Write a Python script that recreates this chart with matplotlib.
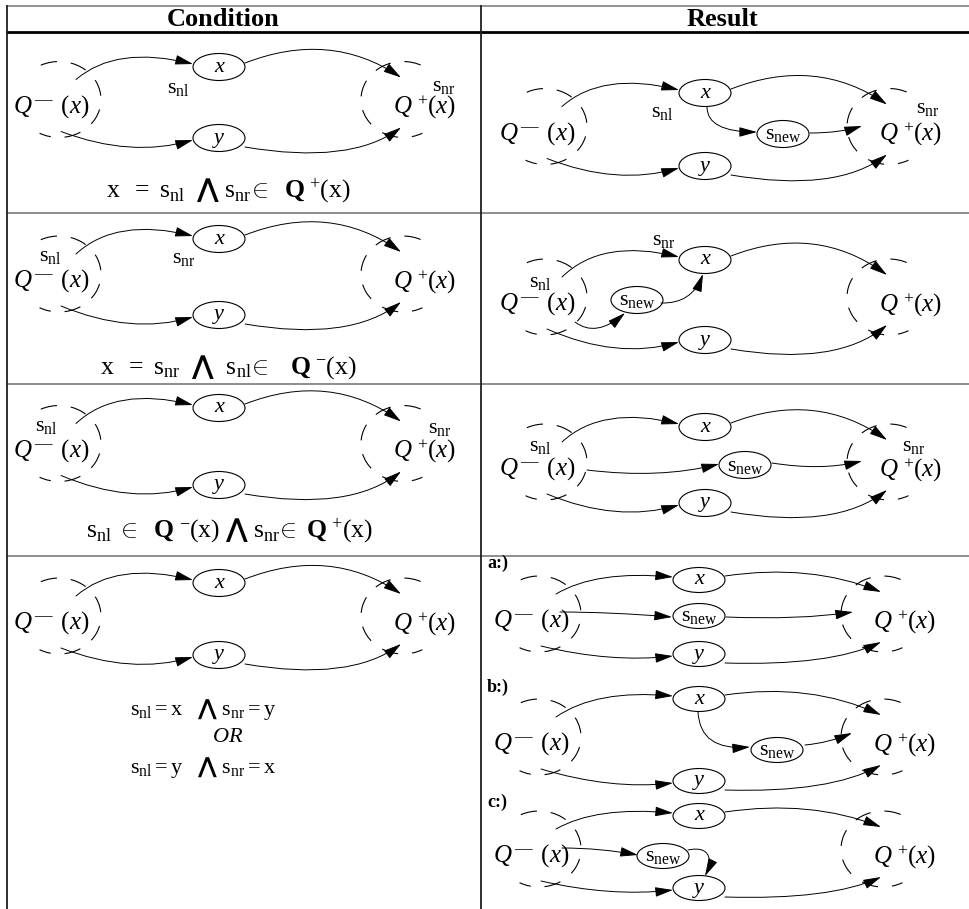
import matplotlib
matplotlib.use('Agg')
import matplotlib.pyplot as plt
from matplotlib.patches import Ellipse, Arc, FancyArrowPatch
from matplotlib.path import Path

plt.rcParams['mathtext.fontset'] = 'custom'
plt.rcParams['mathtext.rm'] = 'Liberation Serif'
plt.rcParams['mathtext.it'] = 'Liberation Serif:italic'
plt.rcParams['mathtext.bf'] = 'Liberation Serif:bold'
plt.rcParams['mathtext.sf'] = 'DejaVu Sans:bold'
plt.rcParams['font.family'] = ['Liberation Serif', 'DejaVu Serif']
plt.rcParams['lines.scale_dashes'] = False

# ---------------- table layout ----------------
COL_X = [7, 481]
ROW_Y = [6, 32, 213, 384, 556]
HEADERS = ['Condition', 'Result']
HEADER_X = [223, 722]

# ---------------- diagrams: (x-node cx, x-node cy, y-node cy, curve amplitude)
COND_NODES = [(219, 67, 138, 1.0), (219, 239, 315, 1.0), (219, 408, 485, 1.0), (219, 583, 655, 1.0)]
RES_NODES = [(705, 93, 166, 1.0), (705, 260, 340, 1.0), (705, 427, 503, 1.0),
             (699, 580, 654, 0.45), (699, 699, 781, 0.45), (699, 816, 888, 0.45)]
NODE_H = [27, 27, 27, 25, 25, 25]

SNEW_POS = [(783, 134), (637, 300), (745, 465), (699, 616), (777, 750), (663, 856)]
SNEW_EDGES = [
    [[(707, 107), (707, 132), (757, 132)], [(810, 133), (840, 133), (862, 126)]],
    [[(575, 322), (596, 338), (625, 313)], [(661, 303), (692, 304), (703, 274)]],
    [[(587, 470), (660, 479), (719, 464)], [(772, 463), (822, 471), (862, 461)]],
    [[(560, 612), (610, 612), (672, 617)], [(726, 617), (800, 620), (853, 612)]],
    [[(698, 712), (700, 751), (750, 747)], [(805, 745), (828, 743), (852, 733)]],
    [[(562, 848), (600, 848), (638, 855)], [(688, 850), (712, 845), (712, 862), (705, 876)]],
]

LABELS = [('nl', 178, 88), ('nr', 444, 86),
          ('nl', 50, 257), ('nr', 184, 259),
          ('nl', 46, 427), ('nr', 440, 429),
          ('nl', 662, 112), ('nr', 928, 108),
          ('nl', 540, 282), ('nr', 664, 240),
          ('nl', 540, 446), ('nr', 914, 447)]

SUB_LABELS = [('a:)', 487, 563), ('b:)', 487, 687), ('c:)', 487, 802)]

WEDGE = r'\mathsf{⋀}'
FORMULAS = [
    (228, 191, r'$\mathrm{x}\ \ =\ \mathrm{s_{nl}}\ \ %s\ \mathrm{s_{nr}}\!\in\ \ \mathbf{Q}^{\,+}\!(\mathrm{x})$' % WEDGE),
    (228, 367, r'$\mathrm{x}\ \ =\ \mathrm{s_{nr}}\ \ %s\ \ \mathrm{s_{nl}}\!\in\ \ \ \mathbf{Q}^{\,-}\!(\mathrm{x})$' % WEDGE),
    (230, 531, r'$\mathrm{s_{nl}}\ \in\ \ \mathbf{Q}^{\,-}\!(\mathrm{x})\ %s\ \mathrm{s_{nr}}\!\in\ \mathbf{Q}^{\,+}\!(\mathrm{x})$' % WEDGE),
]
OR_LINES = [(130, 709, r'$\mathrm{s_{nl}{=}x}\ \ \ %s\ \mathrm{s_{nr}{=}y}$' % WEDGE, 'left'),
            (228, 738, r'$OR$', 'center'),
            (130, 768, r'$\mathrm{s_{nl}{=}y}\ \ \ %s\ \mathrm{s_{nr}{=}x}$' % WEDGE, 'left')]

W, H = 969, 909
fig = plt.figure(figsize=(W / 100, H / 100), dpi=100)
ax = fig.add_axes([0, 0, 1, 1])
ax.set_xlim(0, W)
ax.set_ylim(H, 0)
ax.axis('off')

# table lines
ax.plot([COL_X[0], W], [ROW_Y[0], ROW_Y[0]], color='#808080', lw=1.2)
ax.plot([COL_X[0], W], [ROW_Y[1], ROW_Y[1]], color='black', lw=2.0)
for yy in ROW_Y[2:]:
    ax.plot([COL_X[0], W], [yy, yy], color='#7a7a7a', lw=1.2)
for xx in COL_X:
    ax.plot([xx, xx], [ROW_Y[0], H], color='#202020', lw=1.3)
for t, hx in zip(HEADERS, HEADER_X):
    ax.text(hx, 19, t, fontsize=19, fontweight='bold', ha='center', va='center')

ARROW = '-|>,head_length=1.1,head_width=0.3'


def arrow(pts):
    if len(pts) == 3:
        codes = [Path.MOVETO, Path.CURVE3, Path.CURVE3]
    else:
        codes = [Path.MOVETO, Path.CURVE4, Path.CURVE4, Path.CURVE4]
    p = FancyArrowPatch(path=Path(pts, codes), arrowstyle=ARROW, mutation_scale=10,
                        lw=0.7, color='black')
    ax.add_patch(p)


def diagram(xc, xy, yy, amp, nh):
    lcx, rcx = xc - 160, xc + 184
    cy = (xy + yy) / 2 - 3
    ax.add_patch(Arc((lcx, cy), 84, 76, theta1=-118, theta2=120, lw=0.8,
                     linestyle=(0, (12, 10)), color='black'))
    ax.add_patch(Arc((rcx, cy), 84, 76, theta1=60, theta2=300, lw=0.8,
                     linestyle=(4, (12, 10)), color='black'))
    ax.text(lcx - 8, cy + 7, r'$Q^{\,—}\;\,(x)$', fontsize=18, ha='center', va='center')
    ax.text(rcx + 22, cy + 8, r'$Q^{\,+}\!(x)$', fontsize=18, ha='center', va='center')
    for ny, lab in ((xy, 'x'), (yy, 'y')):
        ax.add_patch(Ellipse((xc, ny), 52, nh, fill=False, lw=0.8, color='black'))
        ax.text(xc, ny, lab, fontsize=16, style='italic', ha='center', va='center')
    arrow([(lcx + 17, cy - 20), (lcx + 57, xy - 22 * amp), (xc - 26, xy - 3)])
    arrow([(xc + 26, xy - 4), (xc + 111, xy - 37 * amp), (rcx - 2, cy - 22)])
    arrow([(lcx + 2, cy + 32), (lcx + 72, yy + 20 * amp), (xc - 26, yy + 2)])
    arrow([(xc + 26, yy + 9), (xc + 131, yy + 27 * amp), (rcx - 2, cy + 28)])


for (xc, xy, yy, amp) in COND_NODES:
    diagram(xc, xy, yy, amp, 27)
for (xc, xy, yy, amp), nh, sp, edges in zip(RES_NODES, NODE_H, SNEW_POS, SNEW_EDGES):
    diagram(xc, xy, yy, amp, nh)
    ax.add_patch(Ellipse(sp, 52, nh, fill=False, lw=0.8, color='black'))
    ax.text(sp[0], sp[1] + 1, r'$\mathrm{s}_{\mathrm{new}}$', fontsize=16, ha='center', va='center')
    for e in edges:
        arrow(e)

for sub, lx, ly in LABELS:
    ax.text(lx, ly, r'$\mathrm{s}_{\mathrm{%s}}$' % sub, fontsize=16, ha='center', va='center')
for t, lx, ly in SUB_LABELS:
    ax.text(lx, ly, t, fontsize=13, fontweight='bold', ha='left', va='center')
for fx, fy, t in FORMULAS:
    ax.text(fx, fy, t, fontsize=18.5, ha='center', va='center')
for fx, fy, t, ha in OR_LINES:
    ax.text(fx, fy, t, fontsize=16, ha=ha, va='center')

fig.savefig('out.png', dpi=100)
